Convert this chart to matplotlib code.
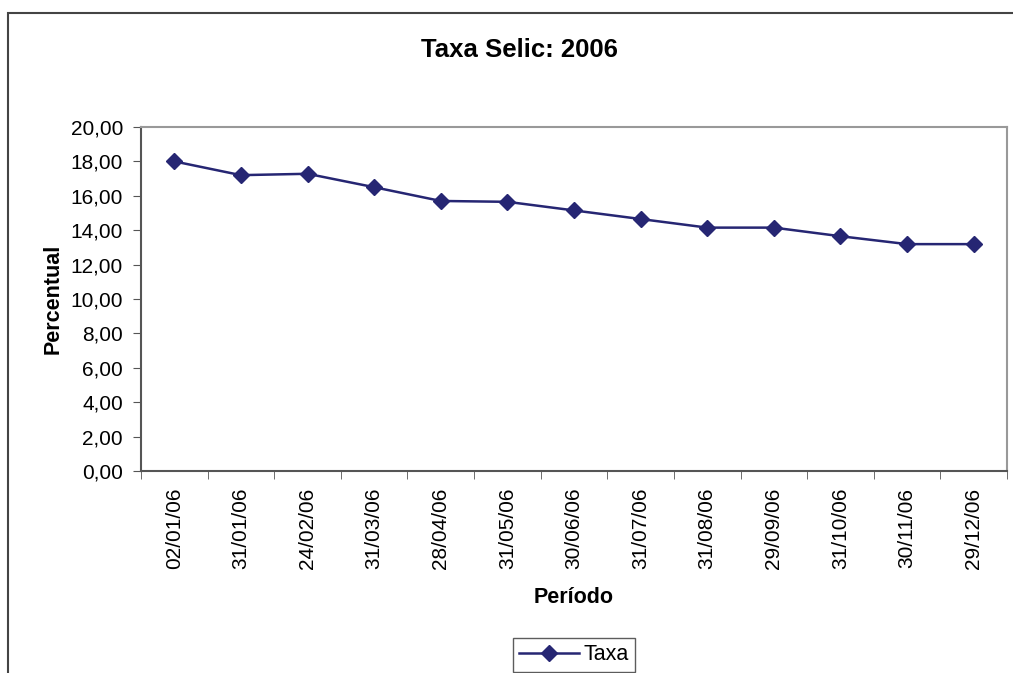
import matplotlib.pyplot as plt
from matplotlib.patches import Rectangle

plt.rcParams['font.family'] = ['Liberation Sans', 'DejaVu Sans']

# dados
datas = ['02/01/06', '31/01/06', '24/02/06', '31/03/06', '28/04/06', '31/05/06', '30/06/06',
         '31/07/06', '31/08/06', '29/09/06', '31/10/06', '30/11/06', '29/12/06']
taxa = [18.00, 17.20, 17.28, 16.50, 15.70, 15.65, 15.15, 14.65, 14.15, 14.15, 13.65, 13.19, 13.19]
yticks = [0, 2, 4, 6, 8, 10, 12, 14, 16, 18, 20]

fig = plt.figure(figsize=(10.13, 6.73), dpi=100)
ax = fig.add_axes([141 / 1013, 1 - 471 / 673, (1007 - 141) / 1013, (471 - 127) / 673])

# moldura externa
fig.patches.append(Rectangle((8 / 1013, -0.1), 1.2, 1 - 13 / 673 + 0.1, transform=fig.transFigure,
                             fill=False, edgecolor='#444444', linewidth=1.5))

x = list(range(len(datas)))
ax.plot(x, taxa, color='#262673', linewidth=1.8, marker='D', markersize=8.5, label='Taxa')

ax.set_xlim(-0.5, len(datas) - 0.5)
ax.set_ylim(0, 20)
ax.set_yticks(yticks)
ax.set_yticklabels([f'{v:.2f}'.replace('.', ',') for v in yticks], fontsize=15)
ax.set_xticks(x)
ax.set_xticklabels(datas, rotation=90, fontsize=15)
ax.tick_params(axis='x', which='major', length=0, pad=12)
ax.set_xticks([i - 0.5 for i in range(len(datas) + 1)], minor=True)
ax.tick_params(axis='x', which='minor', length=6, color='#555555')
ax.tick_params(axis='y', length=6, color='#555555', pad=7)

for s in ['top', 'right']:
    ax.spines[s].set_color('#999999')
    ax.spines[s].set_linewidth(1.5)
for s in ['left', 'bottom']:
    ax.spines[s].set_color('#555555')
    ax.spines[s].set_linewidth(1.5)

ax.set_ylabel('Percentual', fontsize=15.5, fontweight='bold', labelpad=5)
ax.set_xlabel('Período', fontsize=15.5, fontweight='bold', labelpad=13)
fig.text(519 / 1013, 1 - 50 / 673, 'Taxa Selic: 2006', fontsize=18.5, fontweight='bold',
         ha='center', va='center')

leg = fig.legend(loc='center', bbox_to_anchor=(574 / 1013, 1 - 655 / 673), fontsize=15.5,
                 frameon=True, fancybox=False, handlelength=2.8, borderpad=0.3,
                 handletextpad=0.2, borderaxespad=0)
leg.get_frame().set_edgecolor('#333333')
leg.get_frame().set_linewidth(1.0)

fig.savefig('out.png', dpi=100)
